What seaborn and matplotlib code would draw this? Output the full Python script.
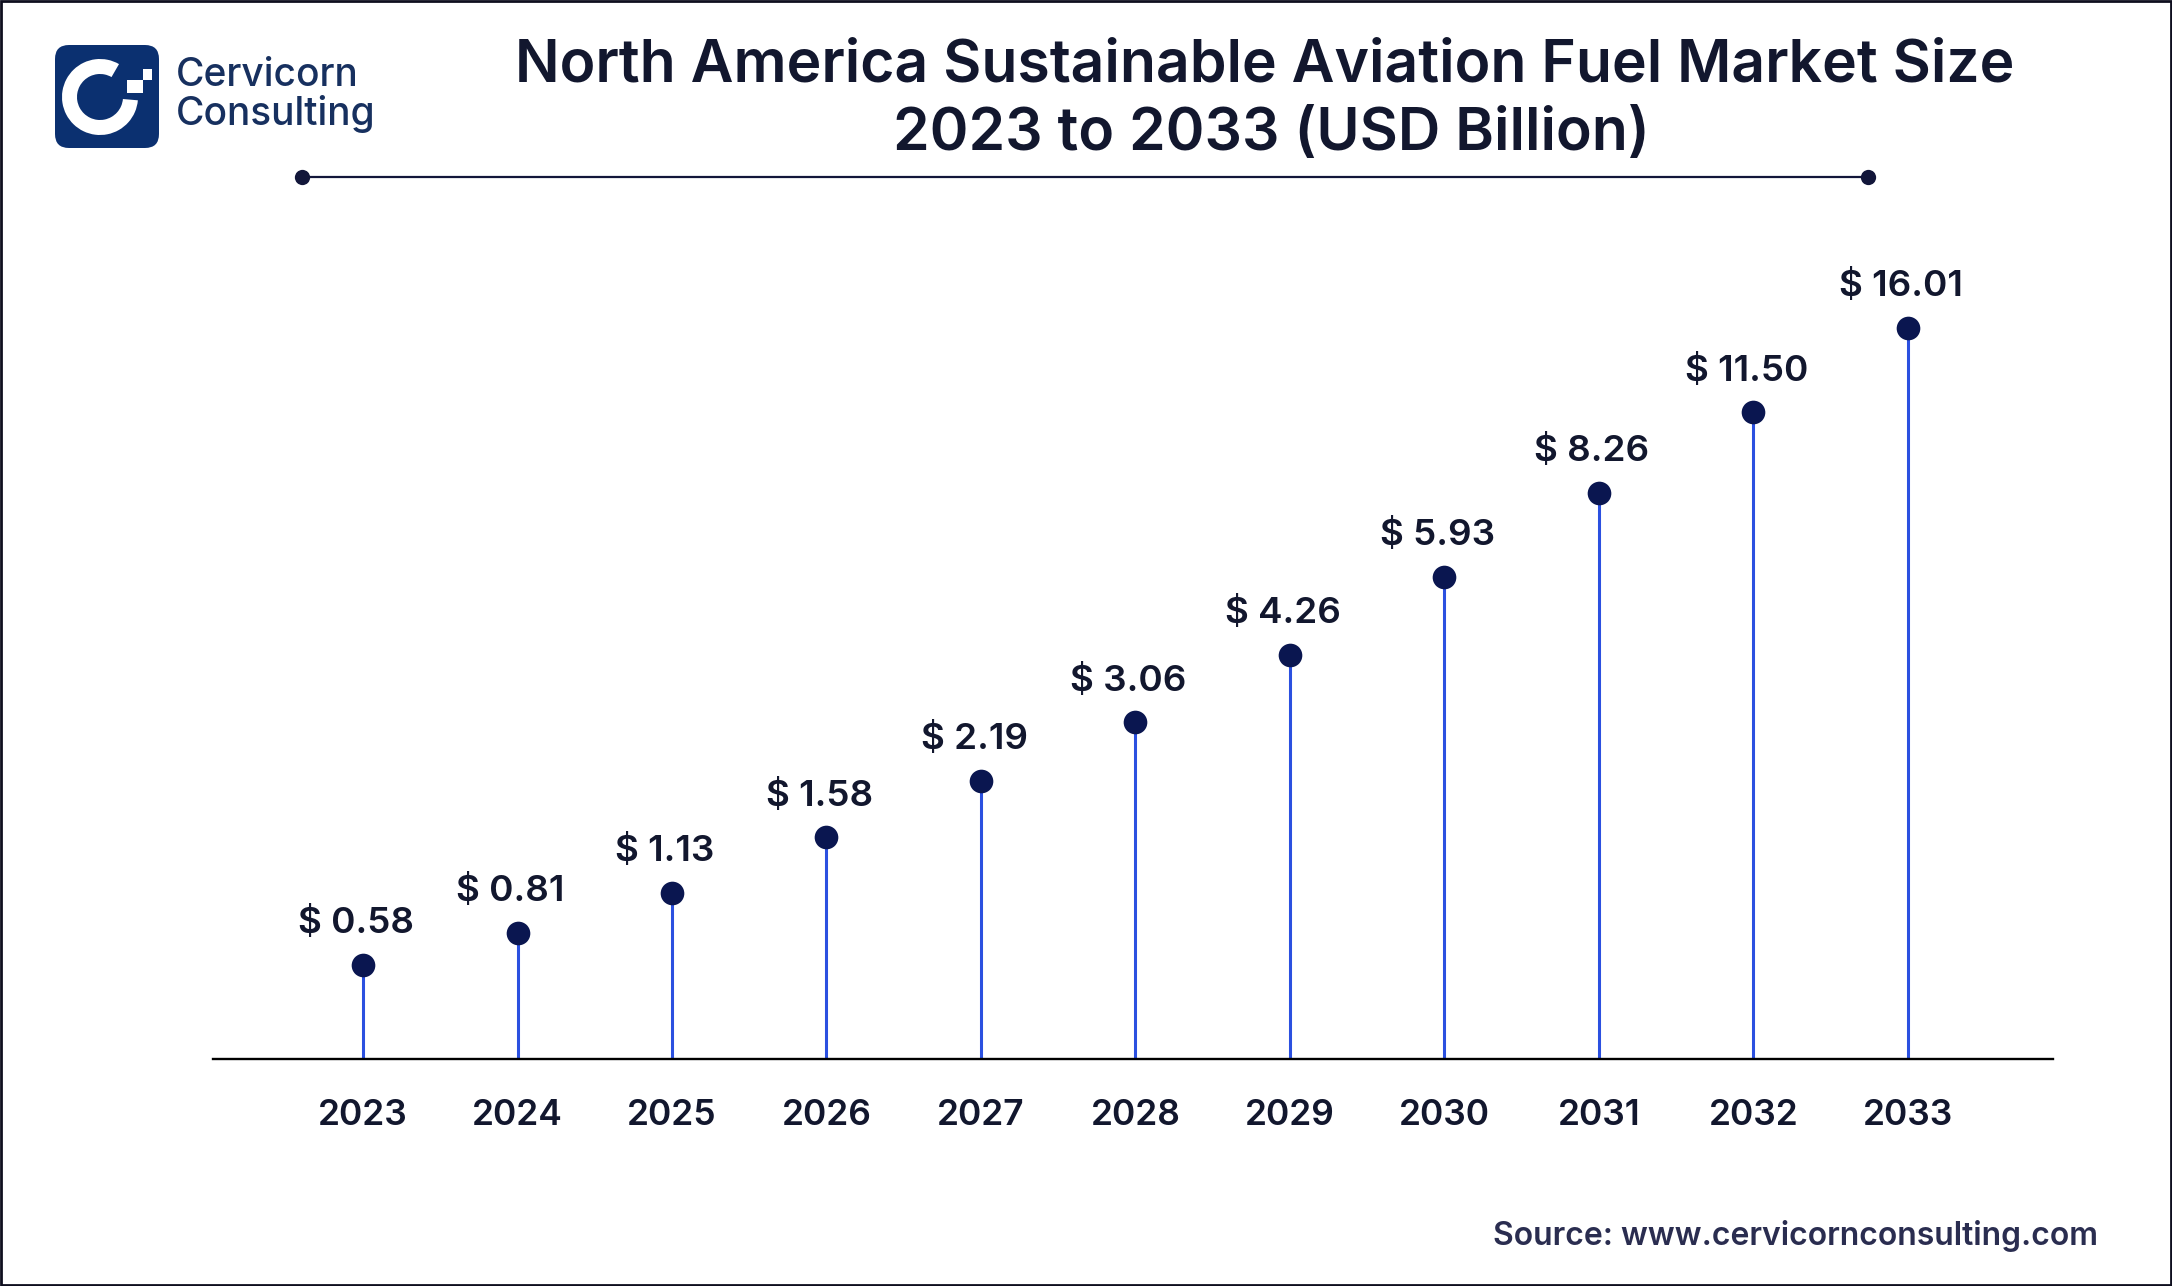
import numpy as np
import matplotlib
matplotlib.use("Agg")
import matplotlib.pyplot as plt
from matplotlib.patches import FancyBboxPatch, Rectangle, Wedge
import seaborn as sns

# values printed on the chart
years = [2023, 2024, 2025, 2026, 2027, 2028, 2029, 2030, 2031, 2032, 2033]
market_size = [0.58, 0.81, 1.13, 1.58, 2.19, 3.06, 4.26, 5.93, 8.26, 11.50, 16.01]

# the chart's vertical axis is not linear, this is the scale read off the picture
scale_values = [0, 0.58, 0.81, 1.13, 1.58, 2.19, 3.06, 4.26, 5.93, 8.26, 11.50, 16.01, 20]
scale_heights = [0, 68, 91, 120, 160, 201, 243, 292, 348, 409, 467, 528, 600]

W, H = 2172, 1286
NAVY = "#0a1650"
BLUE = "#2b50e0"
TEXT = "#12172e"

sns.set_theme(style="white")
plt.rcParams["font.family"] = ["Inter", "DejaVu Sans"]

fig = plt.figure(figsize=(W / 100, H / 100), dpi=100, facecolor="white")

# overlay in pixel coordinates for title, logo and frame
deco = fig.add_axes([0, 0, 1, 1])
deco.set_xlim(0, W)
deco.set_ylim(H, 0)
deco.axis("off")

deco.add_patch(Rectangle((1, 1), W - 2, H - 2, fill=False, ec="#0e0e1e", lw=2))

deco.text(1265, 66, "North America Sustainable Aviation Fuel Market Size", ha="center", va="center",
          fontsize=42.4, fontweight="semibold", color=TEXT)
deco.text(1271, 134, "2023 to 2033 (USD Billion)", ha="center", va="center",
          fontsize=42.4, fontweight="semibold", color=TEXT)

deco.plot([302, 1868], [177, 177], color="#12163a", lw=1.6)
deco.plot([302, 1868], [177, 177], "o", color="#12163a", ms=11, mew=0)

# logo
deco.add_patch(FancyBboxPatch((55, 45), 104, 103, boxstyle="round,pad=0,rounding_size=14", fc="#0b3070", ec="none"))
deco.add_patch(Wedge((100, 97), 38, 5, 300, width=15, fc="white", ec="none"))
deco.add_patch(Rectangle((127, 80), 16, 13, fc="white", ec="none"))
deco.add_patch(Rectangle((143, 69), 9, 11, fc="white", ec="none"))
deco.text(176, 76, "Cervicorn", ha="left", va="center", fontsize=28, fontweight="medium", color="#17305f")
deco.text(176, 114, "Consulting", ha="left", va="center", fontsize=28, fontweight="medium", color="#17305f")

deco.text(2098, 1236, "Source: www.cervicornconsulting.com", ha="right", va="center",
          fontsize=23, fontweight="semibold", color="#2a2d50")

# main chart
x_left, x_right, base_y, top_y = 213, 2053, 1059, 228
ax = fig.add_axes([x_left / W, 1 - base_y / H, (x_right - x_left) / W, (base_y - top_y) / H])
ax.patch.set_alpha(0)


def forward(v):
    return np.interp(v, scale_values, scale_heights)


def inverse(h):
    return np.interp(h, scale_heights, scale_values)


ax.set_yscale("function", functions=(forward, inverse))
ax.vlines(years, 0, market_size, color=BLUE, lw=2.2, zorder=2)
sns.scatterplot(x=years, y=market_size, s=290, color=NAVY, linewidth=0, zorder=3, clip_on=False, ax=ax)

ax.set_xlim(2023 - 0.971, 2033 + 0.939)
ax.set_ylim(0, 20)
ax.set_yticks([])
ax.minorticks_off()
ax.set_xticks(years)
ax.set_xticklabels([str(y) for y in years], fontsize=25.5, fontweight="semibold", color=TEXT)
ax.tick_params(axis="x", length=0, pad=29)
sns.despine(ax=ax, left=True)
ax.spines["bottom"].set_color("black")
ax.spines["bottom"].set_linewidth(1.7)

for year, val in zip(years, market_size):
    ax.annotate(f"$ {val:.2f}", (year, val), xytext=(-5, 30), textcoords="offset points",
                ha="center", va="center", fontsize=26.5, fontweight="semibold", color=TEXT, parse_math=False)

fig.savefig("out.png", dpi=100)
